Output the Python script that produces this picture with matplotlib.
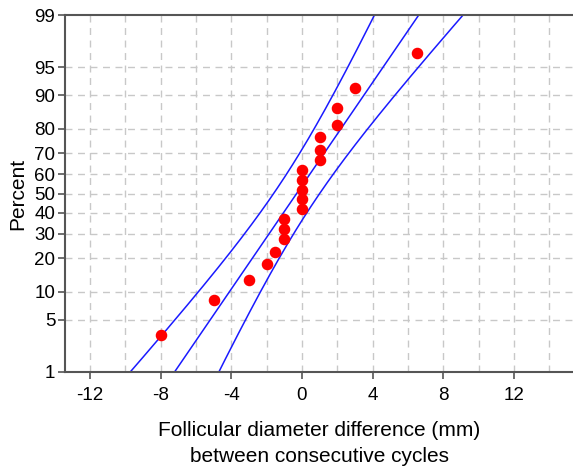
import matplotlib
matplotlib.use("Agg")
import matplotlib.pyplot as plt
import numpy as np
from statistics import NormalDist

# diferencias observadas (mm) y su percentil en la grafica
diff_mm = [-8, -5, -3, -2, -1.5, -1, -1, -1, 0, 0, 0, 0, 0, 1, 1, 1, 2, 2, 3, 6.5]
percent = [3.3, 8.2, 12.9, 17.9, 22.4, 27.6, 32.0, 37.1, 42.0, 47.1,
           51.7, 56.8, 62.0, 66.7, 71.6, 77.0, 81.4, 86.7, 91.5, 96.6]

y_ticks = [1, 5, 10, 20, 30, 40, 50, 60, 70, 80, 90, 95, 99]
x_ticks = [-12, -8, -4, 0, 4, 8, 12]
x_grid = [-12, -10, -8, -6, -4, -2, 0, 2, 4, 6, 8, 10, 12, 14]

nd = NormalDist()
_ppf = np.vectorize(lambda v: nd.inv_cdf(v / 100.0), otypes=[float])
_cdf = np.vectorize(lambda v: nd.cdf(v) * 100.0, otypes=[float])


def pct_to_z(p):
    p = np.clip(np.asarray(p, dtype=float), 1e-6, 100 - 1e-6)
    return _ppf(p)


def z_to_pct(z):
    return _cdf(np.asarray(z, dtype=float))


plt.rcParams['font.family'] = ['Liberation Sans', 'DejaVu Sans']

fig = plt.figure(figsize=(5.73, 4.68), dpi=100)
ax = fig.add_axes([65 / 573, 1 - 372 / 468, 1 - 65 / 573, (372 - 15) / 468])
ax.set_yscale('function', functions=(pct_to_z, z_to_pct))

# recta ajustada y bandas de confianza 95%
datos = np.array(diff_mm)
n = len(datos)
mu = datos.mean()
sd = datos.std(ddof=1)
zz = np.linspace(nd.inv_cdf(0.005), nd.inv_cdf(0.995), 200)
centro = mu + zz * sd
semi = 1.96 * sd * np.sqrt(1 / n + zz ** 2 / (2 * n))
pp = z_to_pct(zz)
color_linea = '#1a1aff'
ax.plot(centro, pp, color=color_linea, lw=1.1)
ax.plot(centro - semi, pp, color=color_linea, lw=1.1)
ax.plot(centro + semi, pp, color=color_linea, lw=1.1)

ax.plot(diff_mm, percent, 'o', color='#ff0000', markersize=7.3, zorder=5)

ax.set_ylim(1, 99)
ax.set_xlim(-13.41, 15.34)

ax.set_yticks(y_ticks)
ax.set_yticklabels([str(t) for t in y_ticks], fontsize=13.5)
ax.set_xticks(x_ticks)
ax.set_xticklabels([str(t) for t in x_ticks], fontsize=13.5)
ax.yaxis.set_minor_locator(matplotlib.ticker.NullLocator())
ax.tick_params(axis='x', pad=6)
ax.tick_params(axis='y', pad=2)

# rejilla discontinua
for gx in x_grid:
    ax.axvline(gx, color='#c8c8c8', lw=1.0, ls=(0, (5, 4)), zorder=0)
for gy in y_ticks[1:-1]:
    ax.axhline(gy, color='#c8c8c8', lw=1.0, ls=(0, (5, 4)), zorder=0)

for lado in ['left', 'bottom', 'top']:
    ax.spines[lado].set_color('#555555')
    ax.spines[lado].set_linewidth(1.5)
ax.spines['right'].set_visible(False)
ax.tick_params(axis='both', direction='out', length=5, width=1.2,
               color='#555555')

ax.set_ylabel('Percent', fontsize=15, labelpad=5)
ax.set_xlabel('Follicular diameter difference (mm)\nbetween consecutive cycles',
              fontsize=15, labelpad=12, linespacing=1.45)

fig.savefig('out.png', dpi=100)
